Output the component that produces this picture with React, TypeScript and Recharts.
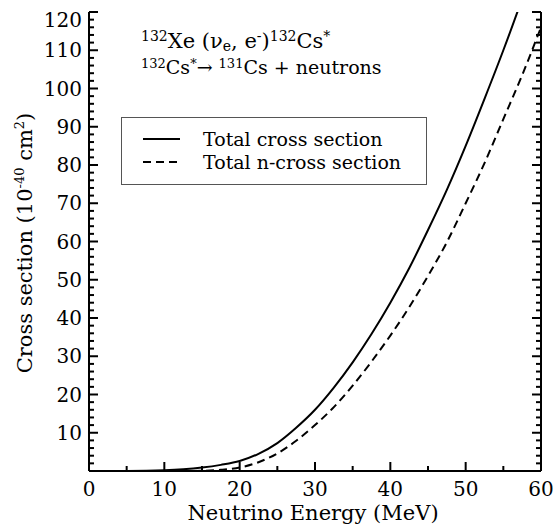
import { LineChart, Line, XAxis, YAxis, Legend } from "recharts";

const energy = [0, 5, 10, 12.5, 15, 17.5, 20, 22.5, 25, 27.5, 30, 32.5, 35, 37.5, 40, 42.5, 45, 47.5, 50, 52.5, 55, 57.5, 60];
const totalCross = [0, 0.02, 0.2, 0.45, 0.9, 1.6, 2.6, 4.5, 7.3, 11.3, 16, 21.8, 28.4, 35.8, 44, 53, 63, 73.5, 85, 97.3, 110, 123.5, 138];
const nCross = [0, 0, 0, 0, 0.05, 0.3, 0.9, 2.3, 4.6, 7.9, 12, 16.7, 22.3, 28.6, 35.4, 42.8, 51, 59.8, 70, 80.5, 92, 103.5, 116];

const xTicks = [0, 5, 10, 15, 20, 25, 30, 35, 40, 45, 50, 55, 60];
const yTicks = Array.from({ length: 61 }, (_, i) => i * 2);

const data = energy.map((e, i) => ({ e, total: totalCross[i], ncross: nCross[i] }));

const font = "'DejaVu Serif', serif";

const BottomTick = (props: any) => {
  const { x, y, payload } = props;
  const major = payload.value % 10 === 0;
  return (
    <g>
      <line x1={x} x2={x} y1={y} y2={y - (major ? 9 : 5)} stroke="#000" strokeWidth={2} />
      {major && (
        <text x={x} y={y + 25} textAnchor="middle" fontSize={20} fontFamily={font} fill="#000">
          {payload.value}
        </text>
      )}
    </g>
  );
};

const TopTick = (props: any) => {
  const { x, y, payload } = props;
  const major = payload.value % 10 === 0;
  return <line x1={x} x2={x} y1={y} y2={y + (major ? 9 : 5)} stroke="#000" strokeWidth={2} />;
};

const LeftTick = (props: any) => {
  const { x, y, payload } = props;
  const major = payload.value % 10 === 0;
  const v = payload.value;
  return (
    <g>
      <line x1={x} x2={x + (major ? 9 : 5)} y1={y} y2={y} stroke="#000" strokeWidth={2} />
      {major && v > 0 && (
        <text x={x - 7} y={y + 7 + (v === 120 ? 8 : 0)} textAnchor="end" fontSize={20} fontFamily={font} fill="#000">
          {v}
        </text>
      )}
    </g>
  );
};

const RightTick = (props: any) => {
  const { x, y, payload } = props;
  const major = payload.value % 10 === 0;
  return <line x1={x} x2={x - (major ? 9 : 5)} y1={y} y2={y} stroke="#000" strokeWidth={2} />;
};

const LegendBox = () => (
  <div
    style={{
      width: 306,
      height: 68,
      border: "1.5px solid #555",
      background: "#fff",
      fontFamily: font,
      fontSize: 19,
      boxSizing: "border-box",
      paddingTop: 9,
    }}
  >
    <div style={{ display: "flex", alignItems: "center", height: 23 }}>
      <svg width={81} height={10}>
        <line x1={21} x2={58} y1={5} y2={5} stroke="#000" strokeWidth={2} />
      </svg>
      <span>Total cross section</span>
    </div>
    <div style={{ display: "flex", alignItems: "center", height: 23 }}>
      <svg width={81} height={10}>
        <line x1={21} x2={58} y1={5} y2={5} stroke="#000" strokeWidth={2} strokeDasharray="8 5" />
      </svg>
      <span>Total n-cross section</span>
    </div>
  </div>
);

const sup = (size: number) => ({ fontSize: size, verticalAlign: "0.5em", lineHeight: 0 });
const sub = (size: number) => ({ fontSize: size, verticalAlign: "-0.2em", lineHeight: 0 });

export default function App() {
  return (
    <div style={{ position: "absolute", left: 0, top: 0, width: 553, height: 529, background: "#fff" }}>
      <LineChart width={553} height={529} data={data} margin={{ top: 12, right: 0, bottom: 0, left: 0 }}>
        <XAxis
          xAxisId="bottom"
          dataKey="e"
          type="number"
          domain={[0, 60]}
          ticks={xTicks}
          interval={0}
          height={58}
          tickSize={0}
          tickMargin={0}
          tickLine={false}
          axisLine={{ stroke: "#000", strokeWidth: 2 }}
          tick={<BottomTick />}
        />
        <XAxis
          xAxisId="top"
          orientation="top"
          dataKey="e"
          type="number"
          domain={[0, 60]}
          ticks={xTicks}
          interval={0}
          height={0}
          tickSize={0}
          tickMargin={0}
          tickLine={false}
          axisLine={{ stroke: "#000", strokeWidth: 2 }}
          tick={<TopTick />}
        />
        <YAxis
          yAxisId="left"
          type="number"
          domain={[0, 120]}
          allowDataOverflow
          ticks={yTicks}
          interval={0}
          width={89}
          tickSize={0}
          tickMargin={0}
          tickLine={false}
          axisLine={{ stroke: "#000", strokeWidth: 2 }}
          tick={<LeftTick />}
        />
        <YAxis
          yAxisId="right"
          orientation="right"
          type="number"
          domain={[0, 120]}
          allowDataOverflow
          ticks={yTicks}
          interval={0}
          width={12}
          tickSize={0}
          tickMargin={0}
          tickLine={false}
          axisLine={{ stroke: "#000", strokeWidth: 2 }}
          tick={<RightTick />}
        />
        <Legend
          content={<LegendBox />}
          layout="vertical"
          verticalAlign="middle"
          align="center"
          wrapperStyle={{ left: 121, top: 117, width: 306 }}
        />
        <Line
          xAxisId="bottom"
          yAxisId="left"
          dataKey="total"
          type="monotone"
          stroke="#000"
          strokeWidth={2}
          dot={false}
          isAnimationActive={false}
        />
        <Line
          xAxisId="bottom"
          yAxisId="left"
          dataKey="ncross"
          type="monotone"
          stroke="#000"
          strokeWidth={2}
          strokeDasharray="8 5"
          dot={false}
          isAnimationActive={false}
        />
      </LineChart>

      <div style={{ position: "absolute", left: 141, top: 30, fontFamily: font, fontSize: 21, lineHeight: "22px", whiteSpace: "nowrap" }}>
        <span style={sup(14)}>132</span>Xe (ν<span style={sub(14)}>e</span>, e<span style={sup(14)}>-</span>)
        <span style={sup(14)}>132</span>Cs<span style={sup(14)}>*</span>
      </div>
      <div style={{ position: "absolute", left: 141, top: 56, fontFamily: font, fontSize: 19, lineHeight: "22px", whiteSpace: "nowrap" }}>
        <span style={sup(13)}>132</span>Cs<span style={sup(13)}>*</span>→ <span style={sup(13)}>131</span>Cs + neutrons
      </div>

      <div style={{ position: "absolute", left: 0, top: 501, width: 626, textAlign: "center", fontFamily: font, fontSize: 21, whiteSpace: "nowrap" }}>
        Neutrino Energy (MeV)
      </div>
      <div
        style={{
          position: "absolute",
          left: 24,
          top: 243,
          transform: "translate(-50%, -50%) rotate(-90deg)",
          fontFamily: font,
          fontSize: 21,
          whiteSpace: "nowrap",
        }}
      >
        Cross section (10<sup style={{ fontSize: 13 }}>-40</sup> cm<sup style={{ fontSize: 13 }}>2</sup>)
      </div>
    </div>
  );
}
